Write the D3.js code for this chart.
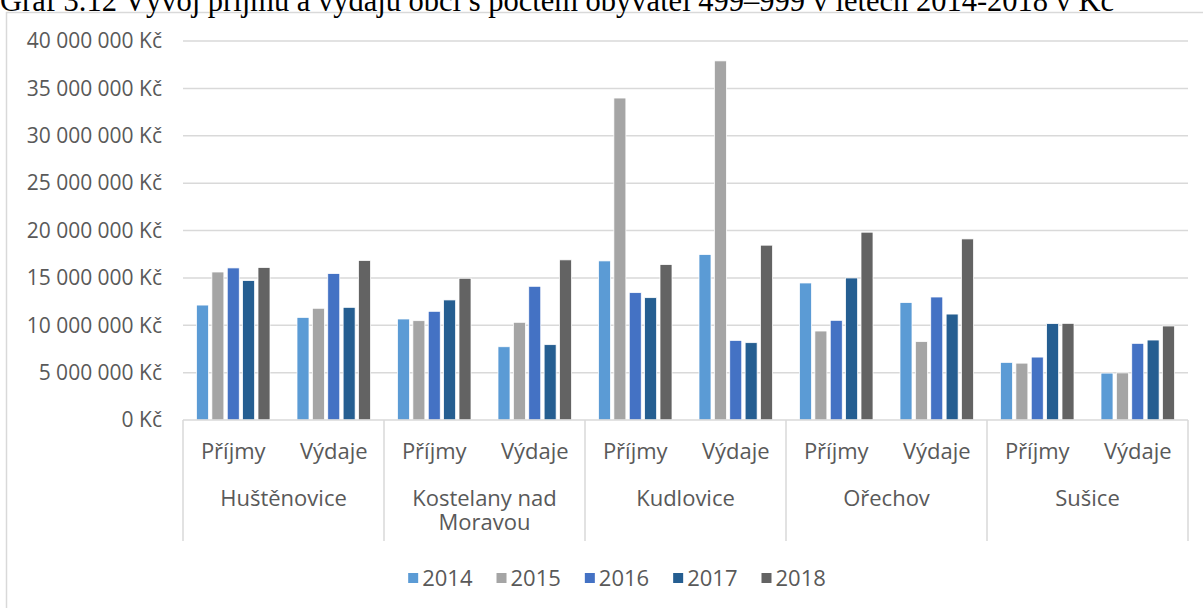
<!DOCTYPE html>
<html>
<head>
<meta charset="utf-8">
<script src="https://cdn.jsdelivr.net/npm/d3@7"></script>
<style>
  body { margin: 0; background: #fff; }
  svg text { font-family: "Open Sans", sans-serif; fill: #595959; }
  .title { font-family: "Liberation Serif", "Times New Roman", serif; fill: #000; }
</style>
</head>
<body>
<div id="wrapper"></div>
<script>

// 1. Data

const towns = ["Huštěnovice", "Kostelany nad Moravou", "Kudlovice", "Ořechov", "Sušice"];
const kinds = ["Příjmy", "Výdaje"];
const years = ["2014", "2015", "2016", "2017", "2018"];
const yTicks = [0, 5e6, 10e6, 15e6, 20e6, 25e6, 30e6, 35e6, 40e6];

// order of each array: town by town, Příjmy then Výdaje (Kč)
const values2014 = [12130000, 10830000, 10660000, 7730000, 16790000, 17460000, 14460000, 12390000, 6080000, 4950000];
const values2015 = [15620000, 11790000, 10480000, 10310000, 33980000, 37900000, 9390000, 8270000, 6000000, 4970000];
const values2016 = [16050000, 15450000, 11470000, 14110000, 13440000, 8400000, 10520000, 12980000, 6640000, 8090000];
const values2017 = [14710000, 11890000, 12670000, 7950000, 12910000, 8160000, 14990000, 11180000, 10170000, 8440000];
const values2018 = [16090000, 16830000, 14960000, 16900000, 16400000, 18450000, 19820000, 19110000, 10200000, 9920000];

const seriesValues = [values2014, values2015, values2016, values2017, values2018];
const colors = ["#5b9bd5", "#a5a5a5", "#4472c4", "#255e91", "#636363"];

const categories = towns.flatMap(t => kinds.map(k => ({ town: t, kind: k, key: t + "|" + k })));
const rows = categories.map((c, i) => ({
  ...c,
  values: years.map((y, j) => ({ year: y, value: seriesValues[j][i] })),
}));

// 2. Dimensions

const width = 1203;
const height = 608;
const plot = { left: 183, right: 1188, top: 41, bottom: 420 };

const svg = d3.select("#wrapper")
  .append("svg")
    .attr("width", width)
    .attr("height", height);

// chart frame
svg.append("rect")
    .attr("x", 6.5)
    .attr("y", 12.5)
    .attr("width", 1230)
    .attr("height", 700)
    .attr("fill", "#fff")
    .attr("stroke", "#d9d9d9")
    .attr("stroke-width", 1.5);

// title (cut off at the top like in the source)
svg.append("text")
    .attr("class", "title")
    .attr("x", 0)
    .attr("y", 11)
    .style("font-size", "30.5px")
    .text("Graf 3.12 Vývoj příjmů a výdajů obcí s počtem obyvatel 499–999 v letech 2014-2018 v Kč");

// 3. Scales

const x0 = d3.scaleBand()
  .domain(categories.map(c => c.key))
  .range([plot.left, plot.right]);

const x1 = d3.scaleBand()
  .domain(years)
  .range([13.5, x0.bandwidth() - 13.5])
  .paddingInner(0.22);

const y = d3.scaleLinear()
  .domain([0, 40e6])
  .range([plot.bottom, plot.top]);

const color = d3.scaleOrdinal().domain(years).range(colors);

const locale = d3.formatLocale({
  decimal: ",",
  thousands: "\u00a0",
  grouping: [3],
  currency: ["", "\u00a0Kč"],
});
const fmt = locale.format("$,");

// 4. Grid and axes

svg.append("g")
  .selectAll("line")
  .data(yTicks.slice(1))
  .join("line")
    .attr("x1", plot.left)
    .attr("x2", plot.right)
    .attr("y1", d => y(d))
    .attr("y2", d => y(d))
    .attr("stroke", "#d9d9d9")
    .attr("stroke-width", 1.5);

svg.append("g")
  .selectAll("text")
  .data(yTicks)
  .join("text")
    .attr("x", 162)
    .attr("y", d => y(d))
    .attr("dy", "0.35em")
    .attr("text-anchor", "end")
    .style("font-size", "21px")
    .text(d => fmt(d));

// 5. Bars

const groups = svg.append("g")
  .selectAll("g")
  .data(rows)
  .join("g")
    .attr("transform", d => `translate(${x0(d.key)},0)`);

groups.selectAll("rect")
  .data(d => d.values)
  .join("rect")
    .attr("x", d => x1(d.year))
    .attr("y", d => y(d.value))
    .attr("width", x1.bandwidth())
    .attr("height", d => y(0) - y(d.value))
    .attr("fill", d => color(d.year))
    .attr("stroke", "#fff")
    .attr("stroke-width", 0.75);

// category axis
const sepBottom = 541;
svg.append("line")
    .attr("x1", plot.left)
    .attr("x2", plot.right)
    .attr("y1", plot.bottom)
    .attr("y2", plot.bottom)
    .attr("stroke", "#d9d9d9")
    .attr("stroke-width", 1.5);

const townBand = d3.scaleBand()
  .domain(towns)
  .range([plot.left, plot.right]);

svg.append("g")
  .selectAll("line")
  .data(towns.map(t => townBand(t)).concat([plot.right]))
  .join("line")
    .attr("x1", d => d)
    .attr("x2", d => d)
    .attr("y1", plot.bottom)
    .attr("y2", sepBottom)
    .attr("stroke", "#d9d9d9")
    .attr("stroke-width", 1.5);

svg.append("g")
  .selectAll("text")
  .data(categories)
  .join("text")
    .attr("x", d => x0(d.key) + x0.bandwidth() / 2)
    .attr("y", 451)
    .attr("dy", "0.35em")
    .attr("text-anchor", "middle")
    .style("font-size", "22px")
    .text(d => d.kind);

const townLabels = svg.append("g")
  .selectAll("text")
  .data(towns)
  .join("text")
    .attr("x", d => townBand(d) + townBand.bandwidth() / 2)
    .attr("y", 498)
    .attr("text-anchor", "middle")
    .style("font-size", "22px");

// wrap long town names into lines that fit the band
townLabels.each(function(d) {
  const el = d3.select(this);
  const words = d.split(" ");
  const maxW = townBand.bandwidth() - 16;
  let line = [];
  let tspan = el.append("tspan").attr("x", el.attr("x")).attr("dy", "0.35em");
  words.forEach(w => {
    line.push(w);
    tspan.text(line.join(" "));
    if (tspan.node().getComputedTextLength() > maxW && line.length > 1) {
      line.pop();
      tspan.text(line.join(" "));
      line = [w];
      tspan = el.append("tspan")
        .attr("x", el.attr("x"))
        .attr("dy", 24)
        .text(w);
    }
  });
});

// 6. Legend

const legend = svg.append("g");
const items = legend.selectAll("g")
  .data(years)
  .join("g");

items.append("rect")
    .attr("width", 10)
    .attr("height", 10)
    .attr("y", -5)
    .attr("fill", d => color(d));

items.append("text")
    .attr("x", 14)
    .attr("dy", "0.35em")
    .style("font-size", "22px")
    .text(d => d);

let cursor = 0;
items.each(function() {
  const g = d3.select(this);
  g.attr("transform", `translate(${cursor},0)`);
  cursor += 14 + g.select("text").node().getComputedTextLength() + 24;
});
const legendWidth = cursor - 24;
legend.attr("transform", `translate(${617 - legendWidth / 2},578)`);

</script>
</body>
</html>
